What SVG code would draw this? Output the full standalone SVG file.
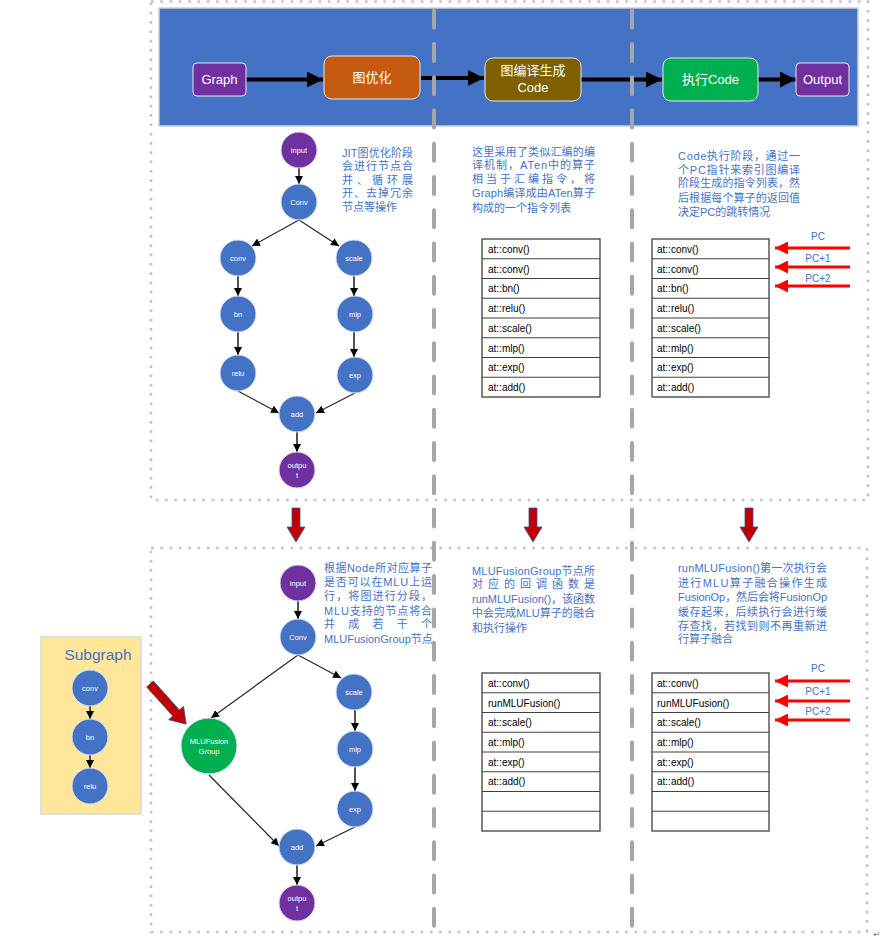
<svg xmlns="http://www.w3.org/2000/svg" width="883" height="941" viewBox="0 0 883 941">
<style>
.dot{fill:none;stroke:#C4C4C4;stroke-width:2.6;stroke-dasharray:2.7 6.6}
.vdash{stroke:#A6A6A6;stroke-width:4;stroke-linecap:round;stroke-dasharray:17 16.26;fill:none}
.bx{stroke:#E8E8E8;stroke-width:1}
.bt{font-family:"Liberation Sans","Noto Sans CJK SC",sans-serif;font-size:13px;fill:#fff;text-anchor:middle}
.ba{stroke:#000;stroke-width:4;fill:none}
.nb{fill:#4472C4;stroke:#DAE3F3;stroke-width:1}
.np{fill:#7030A0;stroke:#DAE3F3;stroke-width:1}
.nt{font-family:"Liberation Sans",sans-serif;font-size:7.5px;fill:#fff;text-anchor:middle}
.e{stroke:#262626;stroke-width:1.2;fill:none}
.ev{stroke:#404040;stroke-width:1.8;fill:none}
.desc{font-family:"Liberation Sans","Noto Sans CJK SC",sans-serif;font-size:11px;fill:#4472C4}
.tb{fill:#fff;stroke:#404040;stroke-width:1.3}
.tl{stroke:#404040;stroke-width:1.2}
.tt{font-family:"Liberation Sans",sans-serif;font-size:10px;fill:#000}
.pc{stroke:#FF0000;stroke-width:3;fill:none}
.pct{font-family:"Liberation Sans",sans-serif;font-size:10px;fill:#4472C4;text-anchor:middle}
.down{fill:#C00000;stroke:#2F5597;stroke-width:0.8}
</style>
<defs>
<marker id="ah" viewBox="0 0 10 10" refX="10" refY="5" markerWidth="8" markerHeight="8" markerUnits="userSpaceOnUse" orient="auto"><path d="M0,0 L10,5 L0,10 z" fill="#000"/></marker>
<marker id="bh" viewBox="0 0 10 10" refX="10" refY="5" markerWidth="16" markerHeight="16" markerUnits="userSpaceOnUse" orient="auto"><path d="M0,0 L10,5 L0,10 z" fill="#000"/></marker>
<marker id="rh" viewBox="0 0 10 10" refX="10" refY="5" markerWidth="15" markerHeight="13" markerUnits="userSpaceOnUse" orient="auto"><path d="M0,0 L10,5 L0,10 z" fill="#FF0000"/></marker>
</defs>

<rect x="0" y="0" width="883" height="941" fill="#fff"/>

<g id="frames">
<rect class="dot" x="151" y="1.5" width="717" height="498.5"/>
<rect class="dot" x="151" y="548" width="716" height="384"/>
</g>

<g id="banner">
<rect x="159" y="8" width="699" height="118" fill="#4472C4" stroke="#D0D0D0" stroke-width="1.5"/>
</g>

<g id="banner-connectors">
<line class="ba" x1="246" y1="79.5" x2="323" y2="79.5" marker-end="url(#bh)"/>
<line class="ba" x1="421" y1="78" x2="484" y2="78" marker-end="url(#bh)"/>
<line class="ba" x1="581" y1="79.5" x2="662" y2="79.5" marker-end="url(#bh)"/>
<line class="ba" x1="758" y1="79.5" x2="796" y2="79.5" marker-end="url(#bh)"/>
</g>

<g id="b-graph"><rect class="bx" x="193" y="63" width="53" height="33" rx="4" fill="#7030A0"/><text class="bt" x="219.5" y="84">Graph</text></g>
<g id="b-opt"><rect class="bx" x="324" y="56" width="96" height="43" rx="8" fill="#C55A11"/><text class="bt" x="372" y="82" font-size="14">图优化</text></g>
<g id="b-compile"><rect class="bx" x="485" y="58" width="96" height="43" rx="8" fill="#7F6000"/><text class="bt" x="533" y="75">图编译生成</text><text class="bt" x="533" y="92" font-size="12">Code</text></g>
<g id="b-exec"><rect class="bx" x="663" y="58" width="95" height="43" rx="8" fill="#00B050"/><text class="bt" x="710.5" y="84">执行Code</text></g>
<g id="b-output"><rect class="bx" x="796" y="63" width="53" height="33" rx="4" fill="#7030A0"/><text class="bt" x="822.5" y="84">Output</text></g>

<g id="separators">
<line class="vdash" x1="434" y1="10.7" x2="434" y2="941"/>
<line class="vdash" x1="632" y1="10.7" x2="632" y2="941"/>
</g>

<!-- top graph -->
<g id="top-connectors">
<line class="ev" x1="299" y1="168" x2="299" y2="184" marker-end="url(#ah)"/>
<line class="e" x1="299" y1="220" x2="252" y2="246" marker-end="url(#ah)"/>
<line class="e" x1="299" y1="220" x2="339" y2="246" marker-end="url(#ah)"/>
<line class="ev" x1="238" y1="276" x2="238" y2="296" marker-end="url(#ah)"/>
<line class="ev" x1="238" y1="332" x2="238" y2="355" marker-end="url(#ah)"/>
<line class="ev" x1="354" y1="276" x2="354" y2="296" marker-end="url(#ah)"/>
<line class="ev" x1="354" y1="332" x2="354" y2="357" marker-end="url(#ah)"/>
<line class="e" x1="238" y1="391" x2="279" y2="413" marker-end="url(#ah)"/>
<line class="e" x1="355" y1="393" x2="316" y2="413" marker-end="url(#ah)"/>
<line class="ev" x1="297" y1="432" x2="297" y2="452" marker-end="url(#ah)"/>
</g>
<g id="t-input"><circle class="np" cx="299" cy="150" r="18"/><text class="nt" x="299" y="153">input</text></g>
<g id="t-Conv"><circle class="nb" cx="299" cy="202" r="18"/><text class="nt" x="299" y="205">Conv</text></g>
<g id="t-conv"><circle class="nb" cx="238" cy="258" r="18"/><text class="nt" x="238" y="261">conv</text></g>
<g id="t-scale"><circle class="nb" cx="354" cy="258" r="18"/><text class="nt" x="354" y="261">scale</text></g>
<g id="t-bn"><circle class="nb" cx="238" cy="314" r="18"/><text class="nt" x="238" y="317">bn</text></g>
<g id="t-mlp"><circle class="nb" cx="355" cy="314" r="18"/><text class="nt" x="355" y="317">mlp</text></g>
<g id="t-relu"><circle class="nb" cx="238" cy="373" r="18"/><text class="nt" x="238" y="376">relu</text></g>
<g id="t-exp"><circle class="nb" cx="355" cy="375" r="18"/><text class="nt" x="355" y="378">exp</text></g>
<g id="t-add"><circle class="nb" cx="297" cy="414" r="18"/><text class="nt" x="297" y="417">add</text></g>
<g id="t-output"><circle class="np" cx="297" cy="470" r="18"/><text class="nt" x="297" y="468">outpu</text><text class="nt" x="297" y="478">t</text></g>

<g id="t-desc1">
<text class="desc" x="342" y="157" textLength="71" lengthAdjust="spacing">JIT图优化阶段</text>
<text class="desc" x="342" y="170" textLength="71" lengthAdjust="spacing">会进行节点合</text>
<text class="desc" x="342" y="184" textLength="71" lengthAdjust="spacing">并、循环展</text>
<text class="desc" x="342" y="197" textLength="71" lengthAdjust="spacing">开、去掉冗余</text>
<text class="desc" x="342" y="211">节点等操作</text>
</g>

<g id="t-desc2">
<text class="desc" x="472" y="156" textLength="123" lengthAdjust="spacing">这里采用了类似汇编的编</text>
<text class="desc" x="472" y="169" textLength="123" lengthAdjust="spacing">译机制，ATen中的算子</text>
<text class="desc" x="472" y="183" textLength="123" lengthAdjust="spacing">相当于汇编指令，将</text>
<text class="desc" x="472" y="197" textLength="123" lengthAdjust="spacing">Graph编译成由ATen算子</text>
<text class="desc" x="472" y="212">构成的一个指令列表</text>
</g>

<g id="t-desc3">
<text class="desc" x="678" y="160" textLength="122" lengthAdjust="spacing">Code执行阶段，通过一</text>
<text class="desc" x="678" y="174" textLength="122" lengthAdjust="spacing">个PC指针来索引图编译</text>
<text class="desc" x="678" y="187" textLength="122" lengthAdjust="spacing">阶段生成的指令列表，然</text>
<text class="desc" x="678" y="202" textLength="122" lengthAdjust="spacing">后根据每个算子的返回值</text>
<text class="desc" x="678" y="216">决定PC的跳转情况</text>
</g>

<g id="t-table1">
<rect class="tb" x="482" y="239" width="118" height="158"/>
<line class="tl" x1="482" y1="258.75" x2="600" y2="258.75"/>
<line class="tl" x1="482" y1="278.5" x2="600" y2="278.5"/>
<line class="tl" x1="482" y1="298.25" x2="600" y2="298.25"/>
<line class="tl" x1="482" y1="318" x2="600" y2="318"/>
<line class="tl" x1="482" y1="337.75" x2="600" y2="337.75"/>
<line class="tl" x1="482" y1="357.5" x2="600" y2="357.5"/>
<line class="tl" x1="482" y1="377.25" x2="600" y2="377.25"/>
<text class="tt" x="488" y="253">at::conv()</text>
<text class="tt" x="488" y="273">at::conv()</text>
<text class="tt" x="488" y="292">at::bn()</text>
<text class="tt" x="488" y="312">at::relu()</text>
<text class="tt" x="488" y="332">at::scale()</text>
<text class="tt" x="488" y="352">at::mlp()</text>
<text class="tt" x="488" y="371">at::exp()</text>
<text class="tt" x="488" y="391">at::add()</text>
</g>

<g id="t-table2">
<rect class="tb" x="652" y="239" width="117" height="158"/>
<line class="tl" x1="652" y1="258.75" x2="769" y2="258.75"/>
<line class="tl" x1="652" y1="278.5" x2="769" y2="278.5"/>
<line class="tl" x1="652" y1="298.25" x2="769" y2="298.25"/>
<line class="tl" x1="652" y1="318" x2="769" y2="318"/>
<line class="tl" x1="652" y1="337.75" x2="769" y2="337.75"/>
<line class="tl" x1="652" y1="357.5" x2="769" y2="357.5"/>
<line class="tl" x1="652" y1="377.25" x2="769" y2="377.25"/>
<text class="tt" x="657" y="253">at::conv()</text>
<text class="tt" x="657" y="273">at::conv()</text>
<text class="tt" x="657" y="292">at::bn()</text>
<text class="tt" x="657" y="312">at::relu()</text>
<text class="tt" x="657" y="332">at::scale()</text>
<text class="tt" x="657" y="352">at::mlp()</text>
<text class="tt" x="657" y="371">at::exp()</text>
<text class="tt" x="657" y="391">at::add()</text>
</g>

<g id="t-pc">
<line class="pc" x1="850" y1="248" x2="775" y2="248" marker-end="url(#rh)"/>
<line class="pc" x1="850" y1="267" x2="775" y2="267" marker-end="url(#rh)"/>
<line class="pc" x1="850" y1="286" x2="775" y2="286" marker-end="url(#rh)"/>
<text class="pct" x="818" y="240">PC</text>
<text class="pct" x="818" y="262">PC+1</text>
<text class="pct" x="818" y="282">PC+2</text>
</g>

<g id="down-arrows">
<polygon class="down" points="292,508 300,508 300,527 305,527 296,542 287,527 292,527"/>
<polygon class="down" points="529,508 537,508 537,527 542,527 533,542 524,527 529,527"/>
<polygon class="down" points="745,508 753,508 753,527 758,527 749,542 740,527 745,527"/>
</g>

<!-- bottom -->
<g id="subgraph">
<rect x="41" y="637" width="100" height="177" fill="#FFE699" stroke="#D9D9D9" stroke-width="1.5"/>
<text x="98" y="660" font-family="Liberation Sans,sans-serif" font-size="15.5" fill="#4472C4" text-anchor="middle">Subgraph</text>
</g>
<g id="sub-connectors">
<line class="ev" x1="90" y1="706" x2="90" y2="719" marker-end="url(#ah)"/>
<line class="ev" x1="90" y1="755" x2="90" y2="768" marker-end="url(#ah)"/>
</g>
<g id="s-conv"><circle class="nb" cx="90" cy="688" r="18"/><text class="nt" x="90" y="691">conv</text></g>
<g id="s-bn"><circle class="nb" cx="90" cy="737" r="18"/><text class="nt" x="90" y="740">bn</text></g>
<g id="s-relu"><circle class="nb" cx="90" cy="786" r="18"/><text class="nt" x="90" y="789">relu</text></g>

<g id="diag-arrow">
<polygon class="down" transform="translate(150,684) rotate(48)" points="0,-4.5 39,-4.5 39,-10 54,0 39,10 39,4.5 0,4.5"/>
</g>

<g id="bottom-connectors">
<line class="ev" x1="298" y1="601" x2="298" y2="619" marker-end="url(#ah)"/>
<line class="e" x1="298" y1="655" x2="211" y2="718" marker-end="url(#ah)"/>
<line class="e" x1="298" y1="655" x2="341" y2="678" marker-end="url(#ah)"/>
<line class="ev" x1="355" y1="710" x2="355" y2="731" marker-end="url(#ah)"/>
<line class="ev" x1="355" y1="767" x2="355" y2="791" marker-end="url(#ah)"/>
<line class="e" x1="209" y1="775" x2="279" y2="846" marker-end="url(#ah)"/>
<line class="e" x1="355" y1="827" x2="316" y2="846" marker-end="url(#ah)"/>
<line class="ev" x1="297" y1="865" x2="297" y2="885" marker-end="url(#ah)"/>
</g>
<g id="b-input"><circle class="np" cx="298" cy="583" r="18"/><text class="nt" x="298" y="586">input</text></g>
<g id="b-Conv"><circle class="nb" cx="298" cy="637" r="18"/><text class="nt" x="298" y="640">Conv</text></g>
<g id="b-fusion"><circle cx="209" cy="746" r="28" fill="#00B050" stroke="#DAE3F3" stroke-width="1"/><text class="nt" x="209" y="744">MLUFusion</text><text class="nt" x="209" y="754">Group</text></g>
<g id="b-scale"><circle class="nb" cx="354" cy="692" r="18"/><text class="nt" x="354" y="695">scale</text></g>
<g id="b-mlp"><circle class="nb" cx="355" cy="749" r="18"/><text class="nt" x="355" y="752">mlp</text></g>
<g id="b-exp"><circle class="nb" cx="355" cy="809" r="18"/><text class="nt" x="355" y="812">exp</text></g>
<g id="b-add"><circle class="nb" cx="297" cy="847" r="18"/><text class="nt" x="297" y="850">add</text></g>
<g id="b-out"><circle class="np" cx="297" cy="903" r="18"/><text class="nt" x="297" y="901">outpu</text><text class="nt" x="297" y="911">t</text></g>

<g id="b-desc1">
<text class="desc" x="324" y="572" textLength="108" lengthAdjust="spacing">根据Node所对应算子</text>
<text class="desc" x="324" y="586" textLength="108" lengthAdjust="spacing">是否可以在MLU上运</text>
<text class="desc" x="324" y="600" textLength="108" lengthAdjust="spacing">行，将图进行分段，</text>
<text class="desc" x="324" y="615" textLength="108" lengthAdjust="spacing">MLU支持的节点将合</text>
<text class="desc" x="324" y="628" textLength="108" lengthAdjust="spacing">并成若干个</text>
<text class="desc" x="324" y="643">MLUFusionGroup节点</text>
</g>

<g id="b-desc2">
<text class="desc" x="472" y="575" textLength="123" lengthAdjust="spacing">MLUFusionGroup节点所</text>
<text class="desc" x="472" y="588" textLength="123" lengthAdjust="spacing">对应的回调函数是</text>
<text class="desc" x="472" y="603" textLength="123" lengthAdjust="spacing">runMLUFusion()，该函数</text>
<text class="desc" x="472" y="617" textLength="123" lengthAdjust="spacing">中会完成MLU算子的融合</text>
<text class="desc" x="472" y="632">和执行操作</text>
</g>

<g id="b-desc3">
<text class="desc" x="678" y="572" textLength="149" lengthAdjust="spacing">runMLUFusion()第一次执行会</text>
<text class="desc" x="678" y="587" textLength="149" lengthAdjust="spacing">进行MLU算子融合操作生成</text>
<text class="desc" x="678" y="601" textLength="149" lengthAdjust="spacing">FusionOp，然后会将FusionOp</text>
<text class="desc" x="678" y="616" textLength="149" lengthAdjust="spacing">缓存起来，后续执行会进行缓</text>
<text class="desc" x="678" y="630" textLength="149" lengthAdjust="spacing">存查找，若找到则不再重新进</text>
<text class="desc" x="678" y="643">行算子融合</text>
</g>

<g id="b-table1">
<rect class="tb" x="482" y="673" width="118" height="158"/>
<line class="tl" x1="482" y1="692.75" x2="600" y2="692.75"/>
<line class="tl" x1="482" y1="712.5" x2="600" y2="712.5"/>
<line class="tl" x1="482" y1="732.25" x2="600" y2="732.25"/>
<line class="tl" x1="482" y1="752" x2="600" y2="752"/>
<line class="tl" x1="482" y1="771.75" x2="600" y2="771.75"/>
<line class="tl" x1="482" y1="791.5" x2="600" y2="791.5"/>
<line class="tl" x1="482" y1="811.25" x2="600" y2="811.25"/>
<text class="tt" x="488" y="687">at::conv()</text>
<text class="tt" x="488" y="707">runMLUFusion()</text>
<text class="tt" x="488" y="726">at::scale()</text>
<text class="tt" x="488" y="746">at::mlp()</text>
<text class="tt" x="488" y="766">at::exp()</text>
<text class="tt" x="488" y="785">at::add()</text>
</g>

<g id="b-table2">
<rect class="tb" x="652" y="673" width="117" height="158"/>
<line class="tl" x1="652" y1="692.75" x2="769" y2="692.75"/>
<line class="tl" x1="652" y1="712.5" x2="769" y2="712.5"/>
<line class="tl" x1="652" y1="732.25" x2="769" y2="732.25"/>
<line class="tl" x1="652" y1="752" x2="769" y2="752"/>
<line class="tl" x1="652" y1="771.75" x2="769" y2="771.75"/>
<line class="tl" x1="652" y1="791.5" x2="769" y2="791.5"/>
<line class="tl" x1="652" y1="811.25" x2="769" y2="811.25"/>
<text class="tt" x="657" y="687">at::conv()</text>
<text class="tt" x="657" y="707">runMLUFusion()</text>
<text class="tt" x="657" y="726">at::scale()</text>
<text class="tt" x="657" y="746">at::mlp()</text>
<text class="tt" x="657" y="766">at::exp()</text>
<text class="tt" x="657" y="785">at::add()</text>
</g>

<g id="b-pc">
<line class="pc" x1="850" y1="681" x2="775" y2="681" marker-end="url(#rh)"/>
<line class="pc" x1="850" y1="701" x2="775" y2="701" marker-end="url(#rh)"/>
<line class="pc" x1="850" y1="720" x2="775" y2="720" marker-end="url(#rh)"/>
<text class="pct" x="818" y="672">PC</text>
<text class="pct" x="818" y="695">PC+1</text>
<text class="pct" x="818" y="715">PC+2</text>
</g>

<text x="873" y="937" font-family="DejaVu Sans,sans-serif" font-size="9" fill="#808080">↵</text>
</svg>
